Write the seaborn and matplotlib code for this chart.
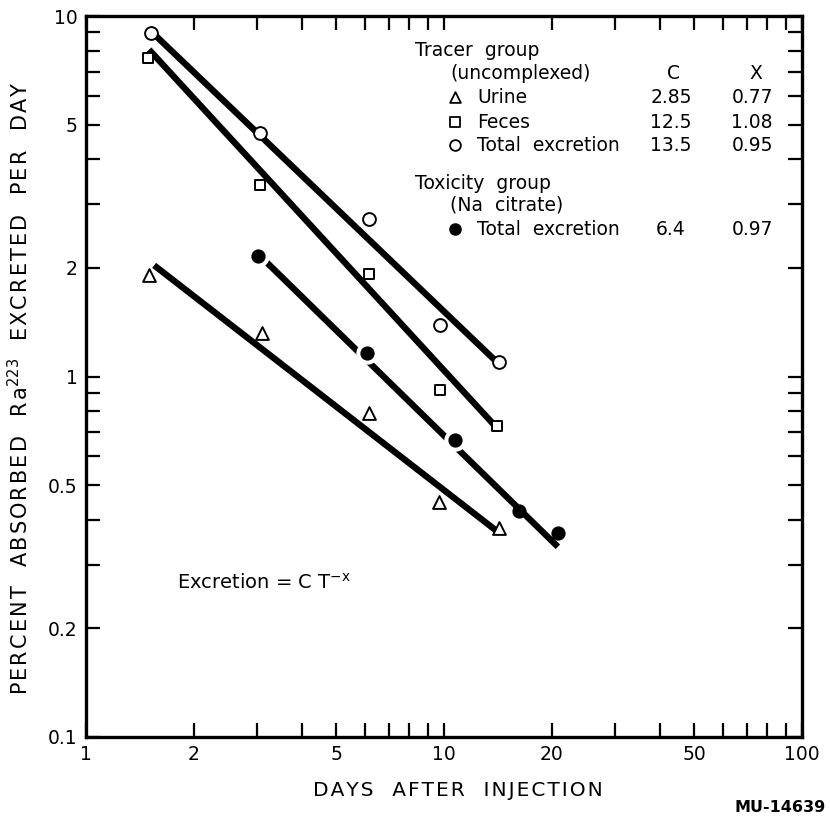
import numpy as np
import pandas as pd
import matplotlib
matplotlib.use("Agg")
import matplotlib.pyplot as plt
from matplotlib.ticker import FixedLocator, FuncFormatter, NullLocator
import seaborn as sns

# Measured daily excretion of Ra-223 (% of absorbed dose)
urine_days = [1.50, 3.10, 6.19, 9.70, 14.2]
urine_pct = [1.91, 1.32, 0.79, 0.45, 0.38]

feces_days = [1.49, 3.06, 6.19, 9.75, 14.1]
feces_pct = [7.66, 3.40, 1.93, 0.92, 0.73]

total_days = [1.52, 3.06, 6.17, 9.75, 14.2]
total_pct = [8.95, 4.75, 2.73, 1.39, 1.10]

citrate_days = [3.02, 6.08, 10.7, 16.2, 20.8]
citrate_pct = [2.16, 1.16, 0.667, 0.424, 0.367]

# Power-law fits: Excretion = C * T^-X
fit_names = ["Urine", "Feces", "Total", "Citrate"]
fit_C = [2.85, 12.5, 13.5, 6.4]
fit_X = [0.77, 1.08, 0.95, 0.97]
fit_start = [1.55, 1.50, 1.52, 3.0]
fit_end = [14.0, 14.0, 14.2, 20.8]

x_ticks = [1, 2, 3, 4, 5, 6, 7, 8, 9, 10, 20, 30, 40, 50, 60, 70, 80, 90, 100]
x_labeled = [1, 2, 5, 10, 20, 50, 100]
y_ticks = [0.1, 0.2, 0.3, 0.4, 0.5, 0.6, 0.7, 0.8, 0.9,
           1, 2, 3, 4, 5, 6, 7, 8, 9, 10]
y_labeled = [0.1, 0.2, 0.5, 1, 2, 5, 10]

sns.set_theme(style="ticks")
plt.rcParams["font.family"] = ["DejaVu Sans"]
plt.rcParams["text.color"] = "black"
plt.rcParams["mathtext.default"] = "regular"

fig = plt.figure(figsize=(8.3, 8.17), dpi=100)
ax = fig.add_axes([86 / 830, 1 - 737 / 817, 716 / 830, 721 / 817])
ax.set_xscale("log")
ax.set_yscale("log")
ax.set_xlim(1, 100)
ax.set_ylim(0.1, 10)

# fitted lines
fit_rows = []
for name, c, x, t0, t1 in zip(fit_names, fit_C, fit_X, fit_start, fit_end):
    t = np.geomspace(t0, t1, 50)
    fit_rows.append(pd.DataFrame({"days": t, "pct": c * t ** (-x), "fit": name}))
fits = pd.concat(fit_rows, ignore_index=True)
sns.lineplot(data=fits, x="days", y="pct", units="fit", estimator=None,
             color="black", linewidth=4.6, solid_capstyle="butt",
             legend=False, ax=ax, zorder=2)

# open markers
open_sets = [(urine_days, urine_pct, "^", 85),
             (feces_days, feces_pct, "s", 60),
             (total_days, total_pct, "o", 85)]
for d, p, m, s in open_sets:
    sns.scatterplot(x=d, y=p, marker=m, s=s, facecolor="white",
                    edgecolor="black", linewidth=1.4, ax=ax, zorder=4,
                    legend=False)

# filled markers with a white halo breaking the line
sns.scatterplot(x=citrate_days[:3], y=citrate_pct[:3], marker="o", s=260,
                color="white", linewidth=0, ax=ax, zorder=3, legend=False)
sns.scatterplot(x=citrate_days, y=citrate_pct, marker="o", s=105,
                color="black", linewidth=0, ax=ax, zorder=4, legend=False)

# axes styling
for side in ["left", "right", "top", "bottom"]:
    ax.spines[side].set_visible(True)
    ax.spines[side].set_linewidth(2.4)
    ax.spines[side].set_color("black")

ax.xaxis.set_major_locator(FixedLocator(x_ticks))
ax.yaxis.set_major_locator(FixedLocator(y_ticks))
ax.xaxis.set_minor_locator(NullLocator())
ax.yaxis.set_minor_locator(NullLocator())


def fmt_label(labeled):
    def f(v, pos):
        for l in labeled:
            if abs(v - l) / l < 1e-6:
                return f"{l:g}"
        return ""
    return FuncFormatter(f)


ax.xaxis.set_major_formatter(fmt_label(x_labeled))
ax.yaxis.set_major_formatter(fmt_label(y_labeled))
ax.tick_params(which="major", direction="in", length=10, width=1.6,
               top=True, right=True, labelsize=13.5, colors="black", pad=6)
ax.set_xlabel("")
ax.set_ylabel("")


def spaced(s):
    # widen letter spacing with hair spaces
    return "\u200a".join(s)


fig.text(458 / 830, 1 - 790 / 817, spaced("DAYS  AFTER  INJECTION"),
         ha="center", va="center", fontsize=14.5)
fig.text(20 / 830, 1 - 388 / 817,
         spaced("PERCENT  ABSORBED  Ra") + "$^{223}$" +
         spaced("  EXCRETED  PER  DAY"),
         ha="center", va="center", rotation=90, fontsize=15)
fig.text(826 / 830, 1 - 807 / 817, "MU-14639", ha="right", va="center",
         fontsize=11.5, fontweight="semibold")


def fx(px):
    return (px - 86) / 716


def fy(py):
    return (737 - py) / 721


tfs = 13.5
ax.text(fx(415), fy(50), "Tracer  group", transform=ax.transAxes,
        va="center", ha="left", fontsize=tfs)
ax.text(fx(450), fy(73), "(uncomplexed)", transform=ax.transAxes,
        va="center", ha="left", fontsize=tfs)
ax.text(fx(673), fy(73), "C", transform=ax.transAxes, va="center",
        ha="center", fontsize=tfs)
ax.text(fx(756), fy(73), "X", transform=ax.transAxes, va="center",
        ha="center", fontsize=tfs)

rows = [("Urine", "^", 97, 0, False),
        ("Feces", "s", 122, 1, False),
        ("Total  excretion", "o", 145, 2, False),
        ("Total  excretion", "o", 229, 3, True)]
for label, m, py, i, filled in rows:
    ax.scatter([fx(455)], [fy(py)], marker=m, s=60,
               facecolor="black" if filled else "white",
               edgecolor="black", linewidth=1.3,
               transform=ax.transAxes, zorder=5, clip_on=False)
    ax.text(fx(477), fy(py), label, transform=ax.transAxes, va="center",
            ha="left", fontsize=tfs)
    ax.text(fx(671), fy(py), f"{fit_C[i]:g}", transform=ax.transAxes,
            va="center", ha="center", fontsize=tfs)
    ax.text(fx(752), fy(py), f"{fit_X[i]:.2f}", transform=ax.transAxes,
            va="center", ha="center", fontsize=tfs)

ax.text(fx(415), fy(183), "Toxicity  group", transform=ax.transAxes,
        va="center", ha="left", fontsize=tfs)
ax.text(fx(450), fy(205), "(Na  citrate)", transform=ax.transAxes,
        va="center", ha="left", fontsize=tfs)

ax.text(fx(177), fy(583), "Excretion = C T$^{-x}$", transform=ax.transAxes,
        va="center", ha="left", fontsize=14)

fig.savefig("out.png", dpi=100, facecolor="white")
